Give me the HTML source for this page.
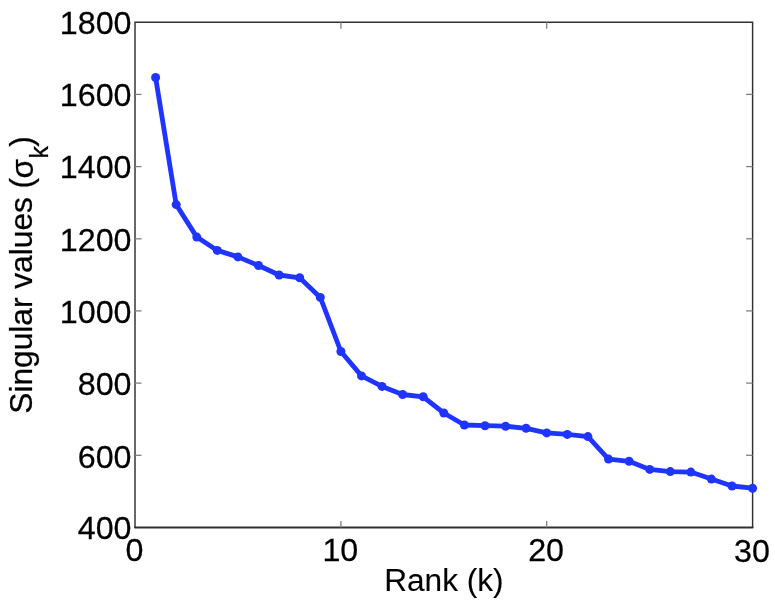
<!DOCTYPE html>
<html lang="en">
<head>
<meta charset="utf-8">
<title>Singular values vs rank</title>
<style>
html,body{margin:0;padding:0;background:#fff;}
body{width:775px;height:600px;overflow:hidden;}
svg{display:block;filter:blur(0.45px);}
text{font-family:"Liberation Sans",sans-serif;fill:#000;stroke:#000;stroke-width:0.25px;}
.tick text{font-size:31px;}
.lab{font-size:31px;stroke-width:0.1px;}
</style>
</head>
<body>
<svg width="775" height="600" viewBox="0 0 775 600">
<rect x="0" y="0" width="775" height="600" fill="#ffffff"/>
<!-- axes box -->
<path d="M135.0,527.5 L135.0,22.3 L752.6,22.3 L752.6,527.5" fill="none" stroke="#303030" stroke-width="1.45" stroke-linejoin="miter"/>
<line x1="135.0" y1="527.5" x2="752.6" y2="527.5" stroke="#303030" stroke-width="2.1" stroke-linecap="round"/>
<!-- ticks -->
<g stroke="#808080" stroke-width="1.3">
<line x1="135.0" y1="94.4" x2="141.5" y2="94.4"/>
<line x1="752.6" y1="94.4" x2="746.1" y2="94.4"/>
<line x1="135.0" y1="166.6" x2="141.5" y2="166.6"/>
<line x1="752.6" y1="166.6" x2="746.1" y2="166.6"/>
<line x1="135.0" y1="238.8" x2="141.5" y2="238.8"/>
<line x1="752.6" y1="238.8" x2="746.1" y2="238.8"/>
<line x1="135.0" y1="310.9" x2="141.5" y2="310.9"/>
<line x1="752.6" y1="310.9" x2="746.1" y2="310.9"/>
<line x1="135.0" y1="383.1" x2="141.5" y2="383.1"/>
<line x1="752.6" y1="383.1" x2="746.1" y2="383.1"/>
<line x1="135.0" y1="455.3" x2="141.5" y2="455.3"/>
<line x1="752.6" y1="455.3" x2="746.1" y2="455.3"/>
<line x1="340.9" y1="527.5" x2="340.9" y2="521.0"/>
<line x1="340.9" y1="22.2" x2="340.9" y2="28.7"/>
<line x1="546.7" y1="527.5" x2="546.7" y2="521.0"/>
<line x1="546.7" y1="22.2" x2="546.7" y2="28.7"/>
</g>
<!-- data -->
<g stroke="#1f35ff" fill="none" stroke-width="4.8" stroke-linejoin="round" stroke-linecap="round">
<polyline points="155.6,77.5 176.2,204.6 196.8,237.1 217.3,250.4 237.9,256.9 258.5,265.5 279.1,275.0 299.7,277.8 320.3,297.4 340.9,351.5 361.5,375.9 382.0,386.4 402.6,394.5 423.2,396.8 443.8,413.0 464.4,425.0 485.0,425.7 505.6,426.2 526.1,428.3 546.7,432.9 567.3,434.4 587.9,436.6 608.5,459.1 629.1,461.3 649.7,469.4 670.3,471.6 690.8,472.1 711.4,479.1 732.0,486.0 752.6,488.2"/>
</g>
<g fill="#1f35ff" stroke="none">
<circle cx="155.6" cy="77.5" r="4.5"/>
<circle cx="176.2" cy="204.6" r="4.5"/>
<circle cx="196.8" cy="237.1" r="4.5"/>
<circle cx="217.3" cy="250.4" r="4.5"/>
<circle cx="237.9" cy="256.9" r="4.5"/>
<circle cx="258.5" cy="265.5" r="4.5"/>
<circle cx="279.1" cy="275.0" r="4.5"/>
<circle cx="299.7" cy="277.8" r="4.5"/>
<circle cx="320.3" cy="297.4" r="4.5"/>
<circle cx="340.9" cy="351.5" r="4.5"/>
<circle cx="361.5" cy="375.9" r="4.5"/>
<circle cx="382.0" cy="386.4" r="4.5"/>
<circle cx="402.6" cy="394.5" r="4.5"/>
<circle cx="423.2" cy="396.8" r="4.5"/>
<circle cx="443.8" cy="413.0" r="4.5"/>
<circle cx="464.4" cy="425.0" r="4.5"/>
<circle cx="485.0" cy="425.7" r="4.5"/>
<circle cx="505.6" cy="426.2" r="4.5"/>
<circle cx="526.1" cy="428.3" r="4.5"/>
<circle cx="546.7" cy="432.9" r="4.5"/>
<circle cx="567.3" cy="434.4" r="4.5"/>
<circle cx="587.9" cy="436.6" r="4.5"/>
<circle cx="608.5" cy="459.1" r="4.5"/>
<circle cx="629.1" cy="461.3" r="4.5"/>
<circle cx="649.7" cy="469.4" r="4.5"/>
<circle cx="670.3" cy="471.6" r="4.5"/>
<circle cx="690.8" cy="472.1" r="4.5"/>
<circle cx="711.4" cy="479.1" r="4.5"/>
<circle cx="732.0" cy="486.0" r="4.5"/>
<circle cx="752.6" cy="488.2" r="4.5"/>
</g>
<!-- tick labels -->
<g class="tick">
<text transform="translate(131.5,34.1) scale(1.04,1)" text-anchor="end">1800</text>
<text transform="translate(131.5,106.2) scale(1.04,1)" text-anchor="end">1600</text>
<text transform="translate(131.5,178.4) scale(1.04,1)" text-anchor="end">1400</text>
<text transform="translate(131.5,250.7) scale(1.04,1)" text-anchor="end">1200</text>
<text transform="translate(131.5,322.9) scale(1.04,1)" text-anchor="end">1000</text>
<text transform="translate(131.5,395.1) scale(1.04,1)" text-anchor="end">800</text>
<text transform="translate(131.5,467.7) scale(1.04,1)" text-anchor="end">600</text>
<text transform="translate(131.5,539.1) scale(1.04,1)" text-anchor="end">400</text>
<text transform="translate(134.4,561.1) scale(1.04,1)" text-anchor="middle">0</text>
<text transform="translate(340.3,561.1) scale(1.04,1)" text-anchor="middle">10</text>
<text transform="translate(546.1,561.3) scale(1.04,1)" text-anchor="middle">20</text>
<text transform="translate(752.0,561.7) scale(1.04,1)" text-anchor="middle">30</text>
</g>
<!-- axis labels -->
<text class="lab" transform="translate(443.9,591) scale(1.02,1)" text-anchor="middle">Rank (k)</text>
<g transform="translate(31.8,413.7) rotate(-90) scale(0.99,1)" font-size="32">
<text x="0" y="0">Singular values (</text>
<text x="237.6" y="1.5" font-size="32">σ</text>
<text x="257.9" y="16.4" font-size="25">k</text>
<text x="269.6" y="0">)</text>
</g>
</svg>
</body>
</html>
